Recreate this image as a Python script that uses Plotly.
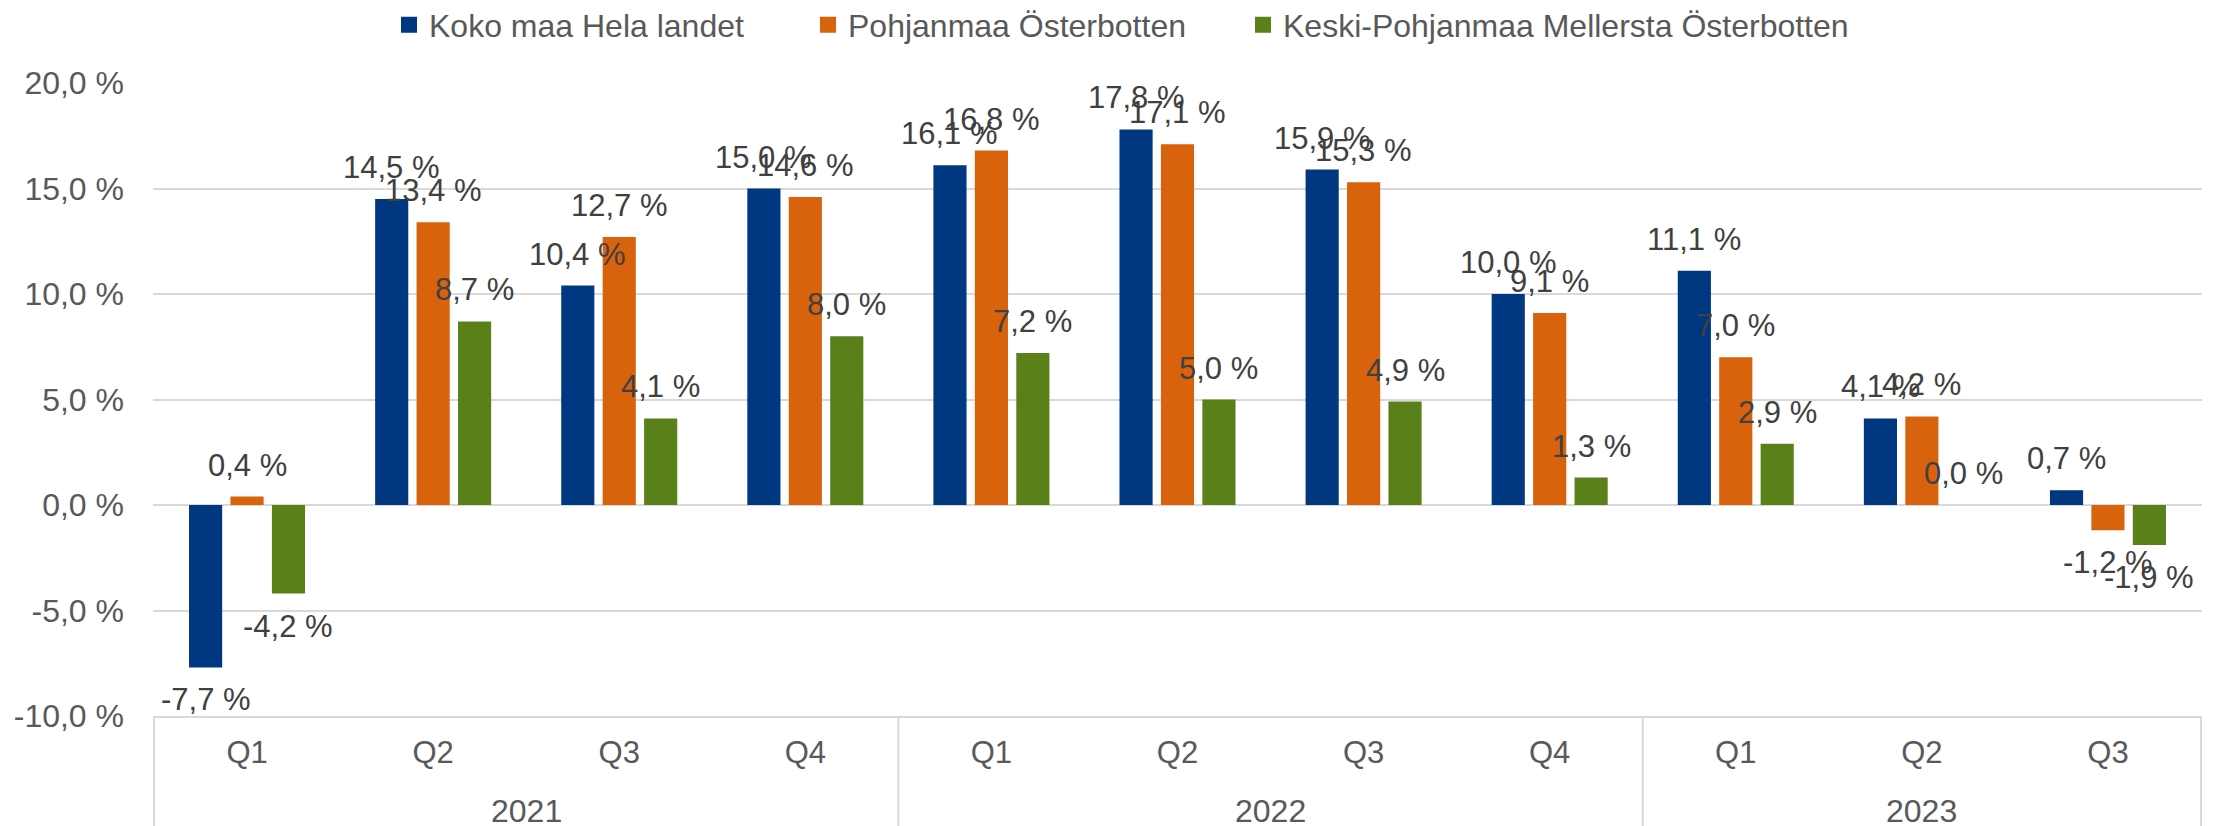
import plotly.graph_objects as go

# ---- data ----
years = ["2021", "2021", "2021", "2021", "2022", "2022", "2022", "2022", "2023", "2023", "2023"]
quarters = ["Q1", "Q2", "Q3", "Q4", "Q1", "Q2", "Q3", "Q4", "Q1", "Q2", "Q3"]
series_names = ["Koko maa Hela landet", "Pohjanmaa Österbotten", "Keski-Pohjanmaa Mellersta Österbotten"]
koko_maa = [-7.7, 14.5, 10.4, 15.0, 16.1, 17.8, 15.9, 10.0, 11.1, 4.1, 0.7]
pohjanmaa = [0.4, 13.4, 12.7, 14.6, 16.8, 17.1, 15.3, 9.1, 7.0, 4.2, -1.2]
keski_pohjanmaa = [-4.2, 8.7, 4.1, 8.0, 7.2, 5.0, 4.9, 1.3, 2.9, 0.0, -1.9]
y_ticks = [-10, -5, 0, 5, 10, 15, 20]

colors = ["#003781", "#D9620D", "#5A801A"]
FONT = "Liberation Sans, Arial, sans-serif"
AXIS_COLOR = "#595959"
LABEL_COLOR = "#404040"
LINE_COLOR = "#d9d9d9"
W, H = 2218, 826
M_L, M_R, M_T, M_B = 153, 16, 83, 110
BARGAP = 0.332
LEGEND_LEFTS = [389, 808, 1243]  # px from left for each legend entry


def fmt(v):
    return f"{v:.1f} %".replace(".", ",")


all_series = [koko_maa, pohjanmaa, keski_pohjanmaa]
cats = [f"{y} {q}" for y, q in zip(years, quarters)]
legend_ids = ["legend", "legend2", "legend3"]

fig = go.Figure()
for name, vals, col in zip(series_names, all_series, colors):
    fig.add_trace(go.Bar(x=cats, y=vals, name=name, showlegend=False,
                         marker=dict(color=col, line=dict(width=0)),
                         hoverinfo="skip"))
# legend entries with square swatches, one legend per entry
for name, col, lid in zip(series_names, colors, legend_ids):
    fig.add_trace(go.Scatter(x=[None], y=[None], mode="markers", name=name,
                             legend=lid,
                             marker=dict(symbol="square", size=16, color=col),
                             hoverinfo="skip"))

slot = (1 - BARGAP) / len(all_series)
annotations = []
for k, vals in enumerate(all_series):
    for i, v in enumerate(vals):
        pos = v >= 0
        annotations.append(dict(
            x=i + (k - 1) * slot, y=v, xref="x", yref="y",
            text=fmt(v), showarrow=False,
            xanchor="center", yanchor="bottom" if pos else "top",
            yshift=12 if pos else -13,
            font=dict(family=FONT, size=31, color=LABEL_COLOR),
        ))

# year group labels and dividers
plot_h = H - M_T - M_B
groups = []
for i, y in enumerate(years):
    if not groups or groups[-1][0] != y:
        groups.append([y, i, i])
    else:
        groups[-1][2] = i
shapes = []
for y, a, b in groups:
    annotations.append(dict(x=(a + b) / 2, y=0, xref="x", yref="paper",
                            text=y, showarrow=False, xanchor="center", yanchor="middle",
                            yshift=-95, font=dict(family=FONT, size=32, color=AXIS_COLOR)))
bounds = [groups[0][1] - 0.5] + [g[2] + 0.5 for g in groups]
for xb in bounds:
    shapes.append(dict(type="line", xref="x", yref="paper", x0=xb, x1=xb,
                       y0=0, y1=-M_B / plot_h, line=dict(color=LINE_COLOR, width=2)))

legend_common = dict(orientation="h", xref="container", xanchor="left",
                     yref="container", y=1 - 25 / H, yanchor="middle",
                     font=dict(family=FONT, size=32, color=AXIS_COLOR),
                     bgcolor="rgba(0,0,0,0)")

fig.update_layout(
    width=W, height=H,
    margin=dict(l=M_L, r=M_R, t=M_T, b=M_B, autoexpand=False),
    plot_bgcolor="white", paper_bgcolor="white",
    bargap=BARGAP, bargroupgap=0.2,
    font=dict(family=FONT, size=30, color=AXIS_COLOR),
    showlegend=True,
    legend=dict(x=LEGEND_LEFTS[0] / W, **legend_common),
    legend2=dict(x=LEGEND_LEFTS[1] / W, **legend_common),
    legend3=dict(x=LEGEND_LEFTS[2] / W, **legend_common),
    annotations=annotations,
    shapes=shapes,
    xaxis=dict(type="category", tickvals=cats, ticktext=quarters,
               showline=True, linecolor=LINE_COLOR, linewidth=2,
               ticks="", showgrid=False, zeroline=False, ticklabelstandoff=8,
               tickfont=dict(family=FONT, size=31, color=AXIS_COLOR)),
    yaxis=dict(range=[-10, 20], tickvals=y_ticks, ticktext=[fmt(t) for t in y_ticks],
               showgrid=True, gridcolor=LINE_COLOR, gridwidth=1.5,
               zeroline=True, zerolinecolor=LINE_COLOR, zerolinewidth=1.5,
               ticks="", ticklabelstandoff=28, showline=False,
               tickfont=dict(family=FONT, size=32, color=AXIS_COLOR)),
)

fig.write_html("out.html", config={"displayModeBar": False},
               post_script="document.body.style.margin='0';")
